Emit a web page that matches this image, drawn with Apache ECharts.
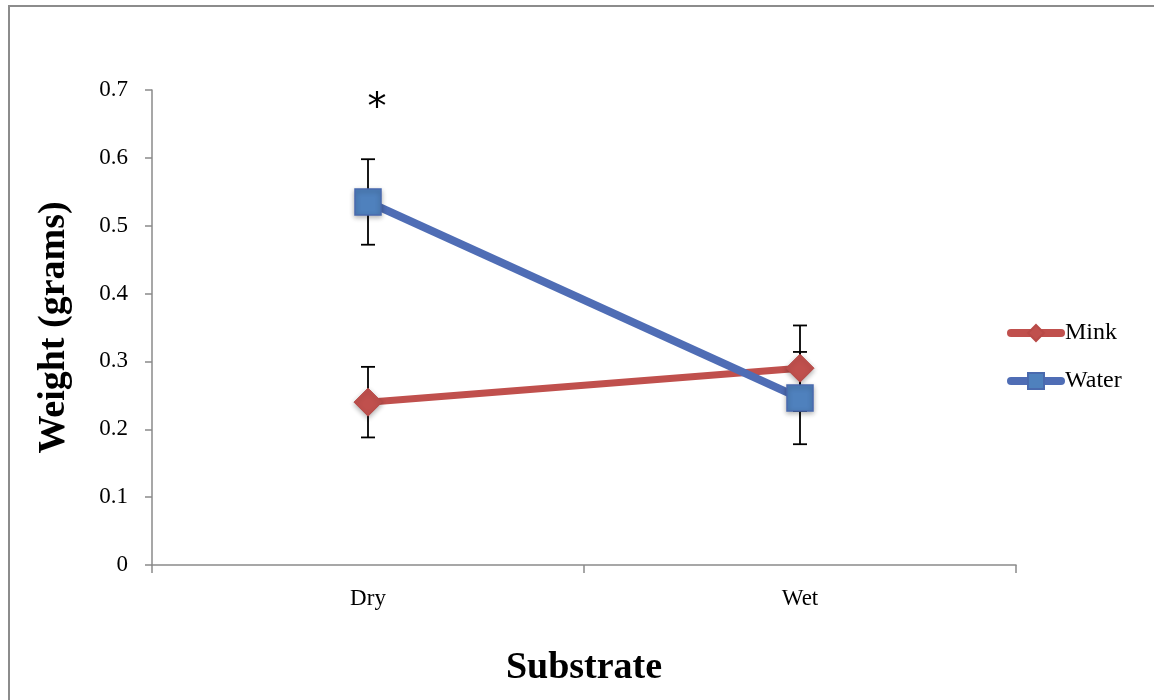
<!DOCTYPE html>
<html><head><meta charset="utf-8">
<script src="https://cdn.jsdelivr.net/npm/echarts@6/dist/echarts.min.js"></script>
<style>html,body{margin:0;padding:0;background:#fff}#c{width:1154px;height:700px}</style>
</head><body><div id="c"></div>
<script>
const categories = ['Dry', 'Wet'];
const minkValues = [0.240, 0.290];
const minkErrors = [0.052, 0.063];
const waterValues = [0.535, 0.246];
const waterErrors = [0.063, 0.068];
const yTicks = [0, 0.1, 0.2, 0.3, 0.4, 0.5, 0.6, 0.7];
const annotation = { category: 'Dry', value: 0.68, text: '*' };

const serif = '"Liberation Serif", "DejaVu Serif", serif';
const axisGray = '#8a8a8a';

function errorData(vals, errs) {
  return vals.map((v, i) => [i, v - errs[i], v + errs[i]]);
}
function renderError(params, api) {
  const x = api.value(0);
  const lo = api.coord([x, api.value(1)]);
  const hi = api.coord([x, api.value(2)]);
  const hw = 7;
  const st = { stroke: '#000', lineWidth: 1.8 };
  return { type: 'group', children: [
    { type: 'line', shape: { x1: lo[0], y1: lo[1], x2: hi[0], y2: hi[1] }, style: st },
    { type: 'line', shape: { x1: lo[0]-hw, y1: lo[1], x2: lo[0]+hw, y2: lo[1] }, style: st },
    { type: 'line', shape: { x1: hi[0]-hw, y1: hi[1], x2: hi[0]+hw, y2: hi[1] }, style: st }
  ]};
}

const chart = echarts.init(document.getElementById('c'));
chart.setOption({
  animation: false,
  backgroundColor: '#fff',
  graphic: [{
    type: 'rect', shape: { x: 9, y: 6, width: 1200, height: 760 },
    style: { fill: 'none', stroke: '#8c8c8c', lineWidth: 2 }, silent: true, z: -10
  }],
  grid: { left: 152, right: 138, top: 90, bottom: 135, outerBoundsMode: 'none', containLabel: false },
  legend: {
    orient: 'vertical', left: 1002, top: 316, itemGap: 24,
    itemWidth: 50, itemHeight: 20,
    lineStyle: { width: 8, cap: 'round' },
    textStyle: { fontFamily: serif, fontSize: 24, color: '#000', padding: [0,0,0,-1] },
    data: ['Mink', 'Water']
  },
  xAxis: {
    type: 'category', data: categories, boundaryGap: true,
    name: 'Substrate', nameLocation: 'middle', nameGap: 84,
    nameTextStyle: { fontFamily: serif, fontWeight: 'bold', fontSize: 38, color: '#000' },
    axisLine: { lineStyle: { color: axisGray, width: 1.5 } },
    axisTick: { show: true, length: 8, alignWithLabel: false, lineStyle: { color: axisGray, width: 1.5 } },
    axisLabel: { fontFamily: serif, fontSize: 23, color: '#000', margin: 22 }
  },
  yAxis: {
    type: 'value', min: yTicks[0], max: yTicks[yTicks.length-1], interval: 0.1,
    name: 'Weight (grams)', nameLocation: 'middle', nameGap: 79, nameRotate: 90,
    nameTextStyle: { fontFamily: serif, fontWeight: 'bold', fontSize: 38, color: '#000' },
    axisLine: { show: true, lineStyle: { color: axisGray, width: 1.5 } },
    axisTick: { show: true, length: 7, lineStyle: { color: axisGray, width: 1.5 } },
    splitLine: { show: false },
    axisLabel: { fontFamily: serif, fontSize: 23, color: '#000', margin: 24,
      formatter: v => String(Math.round(v*10)/10) }
  },
  series: [
    { type: 'custom', name: 'minkErr', renderItem: renderError, data: errorData(minkValues, minkErrors), z: 1, silent: true },
    { type: 'custom', name: 'waterErr', renderItem: renderError, data: errorData(waterValues, waterErrors), z: 1, silent: true },
    {
      name: 'Mink', type: 'line', data: minkValues, z: 3,
      symbol: 'diamond', symbolSize: 28,
      lineStyle: { color: '#C0504D', width: 7 },
      itemStyle: { color: '#C0504D', borderColor: '#B84A47', borderWidth: 1, shadowColor: 'rgba(0,0,0,0.3)', shadowBlur: 5, shadowOffsetY: 2 }
    },
    {
      name: 'Water', type: 'line', data: waterValues, z: 4,
      symbol: 'rect', symbolSize: 26,
      lineStyle: { color: '#4F6DB5', width: 8 },
      itemStyle: { color: '#4F81BD', borderColor: '#4A6AAE', borderWidth: 1.5, shadowColor: 'rgba(0,0,0,0.3)', shadowBlur: 5, shadowOffsetY: 2 },
      markPoint: {
        symbol: 'circle', symbolSize: 1, itemStyle: { color: 'rgba(0,0,0,0)' },
        label: { show: true, formatter: annotation.text, fontFamily: '"DejaVu Sans", sans-serif', fontSize: 38, color: '#000', offset: [9, 6] },
        data: [{ coord: [annotation.category, annotation.value] }]
      }
    }
  ]
});
</script></body></html>
